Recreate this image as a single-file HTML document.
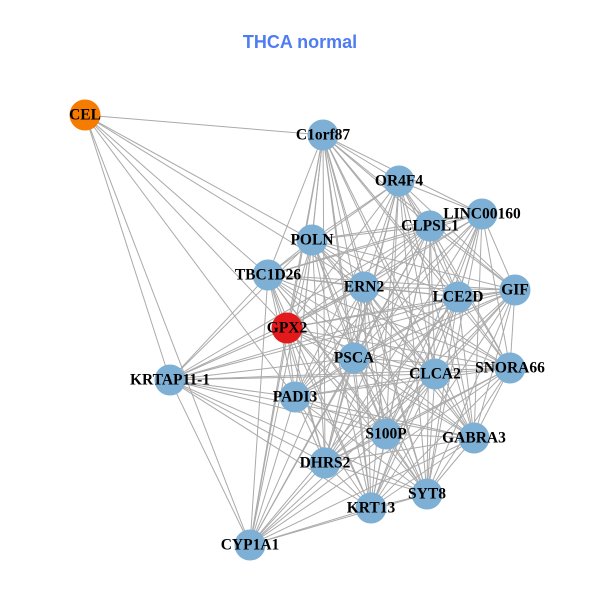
<!DOCTYPE html>
<html><head><meta charset="utf-8"><style>
body{margin:0;background:#fff}
svg{display:block}
text.l{font-family:"Liberation Serif",serif;font-weight:bold;font-size:15.5px;text-anchor:middle;dominant-baseline:central;fill:#000}
</style></head><body>
<svg id="s" width="600" height="600" xmlns="http://www.w3.org/2000/svg">
<text x="300" y="48" text-anchor="middle" style="font-family:'Liberation Sans',sans-serif;font-weight:bold;font-size:18px;fill:#4f7cf2">THCA normal</text>
<g id="e" stroke="#aaaaaa" stroke-width="1"></g>
<g id="n"></g>
</svg>
<script>
var N={CEL:[85,115],C1orf87:[323,135],OR4F4:[399,181],LINC00160:[482,214],CLPSL1:[430,226],POLN:[312,240],TBC1D26:[268,275],ERN2:[364,287],LCE2D:[458,297],GIF:[515,290],GPX2:[287,328],PSCA:[354,358],CLCA2:[435,374],SNORA66:[510,368],"KRTAP11-1":[170,380],PADI3:[295,397],S100P:[386,434],GABRA3:[474,438],DHRS2:[325,463],SYT8:[427,494],KRT13:[371,508],CYP1A1:[250,545]};
var ns="http://www.w3.org/2000/svg",e=document.getElementById('e'),g=document.getElementById('n');
function L(a,b){var l=document.createElementNS(ns,'line');l.setAttribute('x1',N[a][0]);l.setAttribute('y1',N[a][1]);l.setAttribute('x2',N[b][0]);l.setAttribute('y2',N[b][1]);e.appendChild(l);}
var k=Object.keys(N).filter(x=>x!='CEL');
var skip={"KRTAP11-1|C1orf87":1,"KRTAP11-1|OR4F4":1,"KRTAP11-1|LINC00160":1,"CYP1A1|LINC00160":1,"CYP1A1|GIF":1,"CYP1A1|OR4F4":1};
for(var i=0;i<k.length;i++)for(var j=i+1;j<k.length;j++){if(skip[k[i]+'|'+k[j]]||skip[k[j]+'|'+k[i]])continue;L(k[i],k[j]);}
["C1orf87","KRTAP11-1","CYP1A1","TBC1D26","POLN","GPX2","ERN2","PADI3"].forEach(x=>L('CEL',x));
for(var x in N){var c=document.createElementNS(ns,'circle');c.setAttribute('cx',N[x][0]);c.setAttribute('cy',N[x][1]);c.setAttribute('r',15.5);
c.setAttribute('fill',x=='CEL'?'#f57c00':x=='GPX2'?'#e31a1c':'#7eb0d5');g.appendChild(c);}
for(var x in N){var t=document.createElementNS(ns,'text');t.setAttribute('class','l');t.setAttribute('x',N[x][0]);t.setAttribute('y',N[x][1]);t.textContent=x;g.appendChild(t);}
</script>
</body></html>
